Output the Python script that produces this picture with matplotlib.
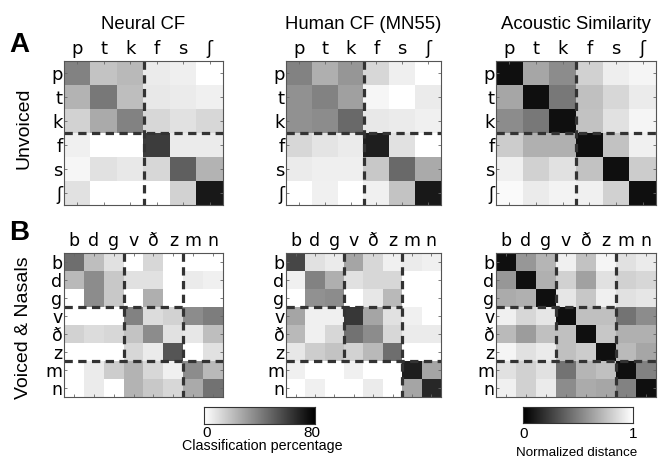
import numpy as np
import matplotlib
matplotlib.use("Agg")
import matplotlib.pyplot as plt
from matplotlib.colors import Normalize

# ---------------- data ----------------
unvoiced = ["p", "t", "k", "f", "s", "ʃ"]
voiced = ["b", "d", "g", "v", "ð", "z", "m", "n"]
col_titles = ["Neural CF", "Human CF (MN55)", "Acoustic Similarity"]

# classification percentage (0-80)
neural_unvoiced = [
    [39.2, 18.8, 22.0, 6.3, 5.3, 0.0],
    [23.5, 42.4, 20.4, 7.2, 6.3, 4.7],
    [14.1, 26.7, 39.2, 12.5, 9.4, 12.5],
    [4.7, 0.0, 0.0, 61.2, 6.3, 6.3],
    [3.1, 9.4, 7.2, 12.5, 50.2, 23.5],
    [9.4, 0.0, 0.0, 0.0, 14.1, 72.2],
]
human_unvoiced = [
    [39.2, 25.1, 32.9, 12.5, 5.3, 0.0],
    [34.5, 39.2, 29.8, 3.1, 0.0, 6.3],
    [34.5, 36.1, 47.1, 7.2, 6.3, 4.7],
    [12.5, 8.5, 6.3, 70.6, 9.4, 0.0],
    [6.3, 5.3, 5.3, 17.3, 47.1, 26.7],
    [0.0, 4.7, 0.0, 4.7, 18.8, 72.2],
]
# normalized distance (0-1)
acoustic_unvoiced = [
    [0.06, 0.65, 0.55, 0.82, 0.93, 0.96],
    [0.65, 0.06, 0.47, 0.75, 0.84, 0.92],
    [0.55, 0.47, 0.06, 0.76, 0.88, 0.96],
    [0.80, 0.69, 0.69, 0.06, 0.76, 0.94],
    [0.94, 0.82, 0.88, 0.76, 0.06, 0.80],
    [0.98, 0.92, 0.95, 0.94, 0.82, 0.06],
]
neural_voiced = [
    [45.5, 20.4, 9.4, 0.0, 12.5, 0.0, 0.0, 0.0],
    [22.0, 36.1, 17.3, 9.4, 9.4, 0.0, 6.3, 4.7],
    [0.0, 36.1, 17.3, 0.0, 25.1, 0.0, 0.0, 0.0],
    [0.0, 0.0, 0.0, 39.2, 11.0, 14.1, 36.1, 40.8],
    [14.1, 11.0, 12.5, 18.8, 36.1, 9.4, 7.8, 20.4],
    [0.0, 0.0, 0.0, 12.5, 6.3, 53.3, 0.0, 9.4],
    [0.0, 6.3, 15.7, 23.5, 12.5, 4.7, 36.1, 22.0],
    [0.0, 6.3, 0.0, 23.5, 17.3, 12.5, 26.7, 43.9],
]
human_voiced = [
    [58.0, 9.4, 6.3, 28.2, 12.5, 4.7, 6.3, 4.7],
    [4.7, 39.2, 25.1, 9.4, 12.5, 12.5, 0.0, 0.0],
    [0.0, 34.5, 36.1, 0.0, 7.8, 22.0, 0.0, 0.0],
    [28.2, 4.7, 4.7, 62.7, 28.2, 9.4, 4.7, 0.0],
    [22.0, 4.7, 12.5, 43.9, 36.1, 12.5, 6.3, 6.3],
    [7.8, 15.7, 18.8, 14.1, 22.0, 45.5, 0.0, 0.0],
    [4.7, 0.0, 0.0, 4.7, 0.0, 0.0, 70.6, 28.2],
    [0.0, 4.7, 0.0, 0.0, 6.3, 0.0, 28.2, 67.5],
]
acoustic_voiced = [
    [0.06, 0.59, 0.71, 0.94, 0.76, 0.96, 0.88, 0.92],
    [0.59, 0.06, 0.69, 0.82, 0.63, 0.88, 0.82, 0.84],
    [0.67, 0.69, 0.06, 0.90, 0.78, 0.94, 0.88, 0.90],
    [0.94, 0.84, 0.90, 0.06, 0.75, 0.75, 0.45, 0.55],
    [0.73, 0.61, 0.75, 0.75, 0.06, 0.78, 0.69, 0.69],
    [0.96, 0.88, 0.92, 0.75, 0.80, 0.06, 0.73, 0.65],
    [0.88, 0.82, 0.88, 0.45, 0.71, 0.75, 0.06, 0.51],
    [0.94, 0.82, 0.92, 0.55, 0.67, 0.65, 0.51, 0.06],
]

W, H = 667, 462
fig = plt.figure(figsize=(W / 100, H / 100), dpi=100)

def box(x0, y0, x1, y1):
    return [x0 / W, 1 - y1 / H, (x1 - x0) / W, (y1 - y0) / H]

col_px = [(64, 223), (286, 441), (496, 656)]
row_px = [(61, 205), (253, 397)]

title_font = "Liberation Sans"
lab_font = "DejaVu Sans"
dash_col = "#333333"

panels = [
    [(neural_unvoiced, "class"), (human_unvoiced, "class"), (acoustic_unvoiced, "dist")],
    [(neural_voiced, "class"), (human_voiced, "class"), (acoustic_voiced, "dist")],
]

for r in range(2):
    labels = unvoiced if r == 0 else voiced
    n = len(labels)
    for c in range(3):
        data, kind = panels[r][c]
        ax = fig.add_axes(box(col_px[c][0], row_px[r][0], col_px[c][1], row_px[r][1]))
        if kind == "class":
            ax.imshow(np.array(data), cmap="gray_r", norm=Normalize(0, 80),
                      aspect="auto", interpolation="nearest")
        else:
            ax.imshow(np.array(data), cmap="gray", norm=Normalize(0, 1),
                      aspect="auto", interpolation="nearest")
        ax.set_xlim(-0.5, n - 0.5)
        ax.set_ylim(n - 0.5, -0.5)
        ax.set_xticks(range(n))
        ax.set_yticks(range(n))
        ax.set_xticklabels(labels, fontsize=13 if r == 0 else 12.5, family=lab_font)
        ax.set_yticklabels(labels, fontsize=13 if r == 0 else 12.5, family=lab_font)
        ax.tick_params(axis="both", direction="in", length=2.5, width=0.6, color="#666666",
                       top=True, bottom=True, left=True, right=True,
                       labeltop=True, labelbottom=False, pad=2)
        ax.tick_params(axis="y", pad=1)
        for s in ax.spines.values():
            s.set_color("#555555")
            s.set_linewidth(0.8)
        dash = dict(color=dash_col, lw=2.3, linestyle=(0, (2.6, 1.7)), solid_capstyle="butt")
        if r == 0:
            ax.plot([2.5, 2.5], [-0.5, n - 0.5], **dash)
            ax.plot([-0.5, n - 0.5], [2.5, 2.5], **dash)
        else:
            ax.plot([2.5, 2.5], [-0.5, 5.5], **dash)
            ax.plot([5.5, 5.5], [-0.5, n - 0.5], **dash)
            ax.plot([-0.5, 5.5], [2.5, 2.5], **dash)
            ax.plot([-0.5, n - 0.5], [5.5, 5.5], **dash)
        if r == 0:
            ax.set_title(col_titles[c], fontsize=13.3, family=title_font, pad=23)

# panel letters and row labels
fig.text(9 / W, 1 - 45 / H, "A", fontsize=20, fontweight="bold", family=title_font,
         va="center", ha="left")
fig.text(9 / W, 1 - 233 / H, "B", fontsize=20, fontweight="bold", family=title_font,
         va="center", ha="left")
fig.text(24 / W, 1 - 128 / H, "Unvoiced", rotation=90, fontsize=14, family=title_font,
         va="center", ha="center")
fig.text(24 / W, 1 - 328 / H, "Voiced & Nasals", rotation=90, fontsize=14, family=title_font,
         va="center", ha="center")

# colorbars
grad = np.linspace(0, 1, 256)[None, :]
cax1 = fig.add_axes(box(204, 407, 315, 424))
cax1.imshow(grad * 80, cmap="gray_r", norm=Normalize(0, 80), aspect="auto",
            extent=(0, 80, 0, 1))
cax1.set_xticks([]); cax1.set_yticks([])
for s in cax1.spines.values():
    s.set_color("#333333"); s.set_linewidth(0.8)
fig.text(207 / W, 1 - 433 / H, "0", fontsize=11, family=title_font, ha="center", va="center")
fig.text(312 / W, 1 - 433 / H, "80", fontsize=11, family=title_font, ha="center", va="center")
fig.text(262 / W, 1 - 446 / H, "Classification percentage", fontsize=10.3, family=title_font,
         ha="center", va="center")

cax2 = fig.add_axes(box(523, 407, 633, 423))
cax2.imshow(grad, cmap="gray", norm=Normalize(0, 1), aspect="auto", extent=(0, 1, 0, 1))
cax2.set_xticks([]); cax2.set_yticks([])
for s in cax2.spines.values():
    s.set_color("#333333"); s.set_linewidth(0.8)
fig.text(524 / W, 1 - 434 / H, "0", fontsize=11, family=title_font, ha="center", va="center")
fig.text(633 / W, 1 - 434 / H, "1", fontsize=11, family=title_font, ha="center", va="center")
fig.text(577 / W, 1 - 453 / H, "Normalized distance", fontsize=9.6, family=title_font,
         ha="center", va="center")

fig.savefig("out.png", dpi=100)
